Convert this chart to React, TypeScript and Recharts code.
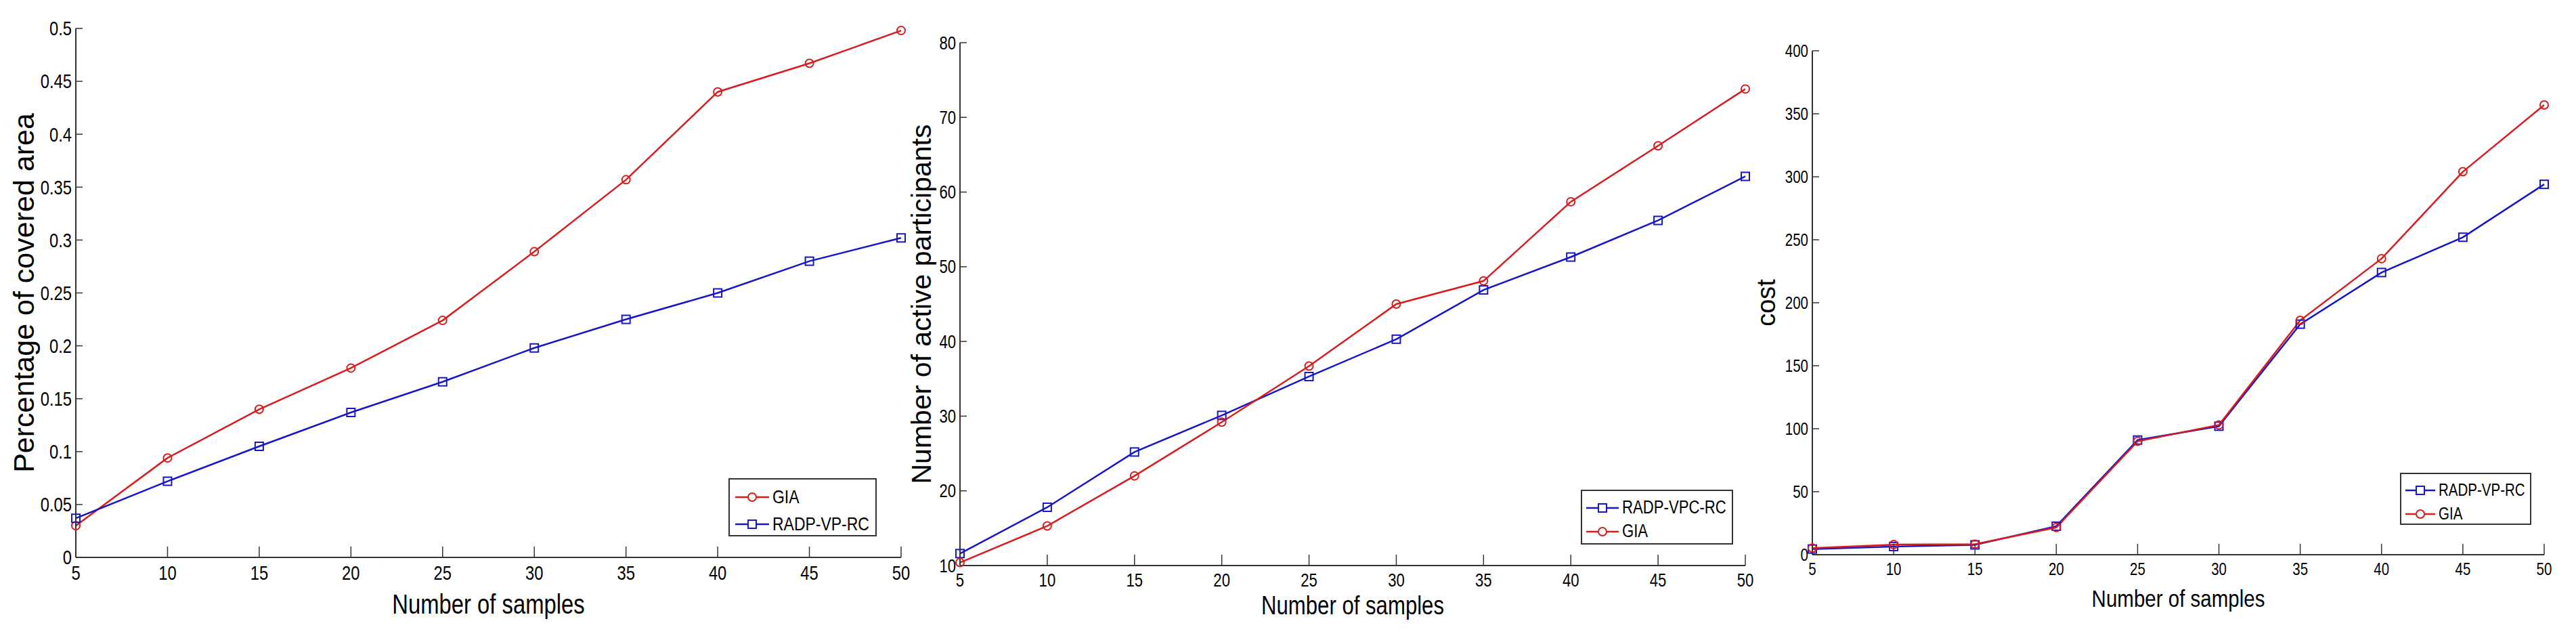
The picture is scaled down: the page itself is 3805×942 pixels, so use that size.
import { LineChart, Line, XAxis, YAxis, Legend, Label } from "recharts";

const samples = [5, 10, 15, 20, 25, 30, 35, 40, 45, 50];

const coverageGIA = [0.03, 0.094, 0.14, 0.179, 0.224, 0.289, 0.357, 0.44, 0.467, 0.498];
const coverageRADP = [0.037, 0.072, 0.105, 0.137, 0.166, 0.198, 0.225, 0.25, 0.28, 0.302];

const participantsRADP = [11.6, 17.8, 25.2, 30.1, 35.3, 40.3, 46.9, 51.3, 56.2, 62.1];
const participantsGIA = [10.4, 15.3, 22.0, 29.2, 36.7, 45.0, 48.1, 58.7, 66.2, 73.8];

const costRADP = [4.5, 6.5, 7.8, 22.6, 91, 102, 183, 224, 252, 294];
const costGIA = [5.2, 8.0, 8.4, 21.6, 90, 103, 186, 235, 304, 357];

const coverageTicks = [0, 0.05, 0.1, 0.15, 0.2, 0.25, 0.3, 0.35, 0.4, 0.45, 0.5];
const participantTicks = [10, 20, 30, 40, 50, 60, 70, 80];
const costTicks = [0, 50, 100, 150, 200, 250, 300, 350, 400];

const RED = "#d81c1c";
const BLUE = "#1616c8";
const AXIS = "#333";
const FONT = '"Liberation Sans", Arial, sans-serif';
const SQUASH = 0.82; // the figure's text is condensed like Arial Narrow
const H = 942;
const X_AXIS_H = 100;

type Series = { name: string; values: number[]; color: string; marker: "circle" | "square" };

const circleDot = (color: string) => (p: any) => (
  <circle key={`c-${p.index}`} cx={p.cx} cy={p.cy} r={6} fill="none" stroke={color} strokeWidth={2} />
);
const squareDot = (color: string) => (p: any) => (
  <rect
    key={`s-${p.index}`}
    x={p.cx - 6}
    y={p.cy - 6}
    width={12}
    height={12}
    fill="none"
    stroke={color}
    strokeWidth={2}
  />
);

// narrow tick label: regular font squeezed horizontally
const narrowTick = (fontSize: number, axis: "x" | "y") => (p: any) => (
  <g transform={`translate(${p.x},${p.y}) scale(${SQUASH},1)`}>
    <text
      x={0}
      y={0}
      dy={axis === "x" ? "0.71em" : "0.355em"}
      textAnchor={axis === "x" ? "middle" : "end"}
      fontFamily={FONT}
      fontSize={fontSize}
      fill="#000"
    >
      {p.payload.value}
    </text>
  </g>
);

function BoxLegend({ series, cfg }: { series: Series[]; cfg: any }) {
  return (
    <div
      style={{
        boxSizing: "border-box",
        width: cfg.width,
        height: cfg.height,
        border: `2px solid ${AXIS}`,
        background: "#fff",
        paddingTop: cfg.padTop,
        paddingLeft: cfg.padLeft,
        overflow: "hidden",
      }}
    >
      {series.map((s) => (
        <div key={s.name} style={{ display: "flex", alignItems: "center", height: cfg.rowH }}>
          <svg width={cfg.iconW} height={20} style={{ flex: "none" }}>
            <line x1={0} x2={cfg.iconW} y1={10} y2={10} stroke={s.color} strokeWidth={2.5} />
            {s.marker === "circle" ? (
              <circle cx={cfg.iconW / 2} cy={10} r={6} fill="#fff" stroke={s.color} strokeWidth={2} />
            ) : (
              <rect x={cfg.iconW / 2 - 6} y={4} width={12} height={12} fill="#fff" stroke={s.color} strokeWidth={2} />
            )}
          </svg>
          <span
            style={{
              display: "inline-block",
              fontFamily: FONT,
              fontSize: cfg.fontSize,
              color: "#000",
              marginLeft: 5,
              lineHeight: 1,
              whiteSpace: "nowrap",
              transform: `scaleX(${SQUASH})`,
              transformOrigin: "left center",
            }}
          >
            {s.name}
          </span>
        </div>
      ))}
    </div>
  );
}

function Panel(props: {
  left: number;
  width: number;
  plot: { l: number; r: number; t: number; b: number };
  series: Series[];
  yDomain: [number, number];
  yTicks: number[];
  tickFont: number;
  yLabel: string;
  yLabelX: number;
  yLabelSize: number;
  xLabelSize: number;
  xLabelBaseline: number;
  legend: any;
}) {
  const { left, width, plot, series } = props;
  const data = samples.map((x, i) => {
    const row: any = { x };
    series.forEach((s) => (row[s.name] = s.values[i]));
    return row;
  });
  return (
    <div style={{ position: "absolute", left, top: 0 }}>
      <LineChart
        width={width}
        height={H}
        data={data}
        margin={{ top: plot.t, right: left + width - plot.r, left: 0, bottom: H - plot.b - X_AXIS_H }}
      >
        <XAxis
          dataKey="x"
          type="number"
          domain={[5, 50]}
          ticks={samples}
          interval={0}
          height={X_AXIS_H}
          tick={narrowTick(props.tickFont, "x")}
          tickSize={-16}
          tickMargin={28}
          axisLine={{ stroke: AXIS, strokeWidth: 2 }}
          tickLine={{ stroke: AXIS, strokeWidth: 1.5 }}
        >
          <Label
            content={(p: any) => {
              const vb = p.viewBox || {};
              const cx = vb.x + vb.width / 2;
              return (
                <g transform={`translate(${cx},${props.xLabelBaseline}) scale(${SQUASH},1)`}>
                  <text x={0} y={0} textAnchor="middle" fontFamily={FONT} fontSize={props.xLabelSize} fill="#000">
                    Number of samples
                  </text>
                </g>
              );
            }}
          />
        </XAxis>
        <YAxis
          type="number"
          domain={props.yDomain}
          ticks={props.yTicks}
          interval={0}
          width={plot.l - left}
          tick={narrowTick(props.tickFont, "y")}
          tickSize={-10}
          tickMargin={16}
          axisLine={{ stroke: AXIS, strokeWidth: 2 }}
          tickLine={{ stroke: AXIS, strokeWidth: 1.5 }}
        >
          <Label
            content={(p: any) => {
              const vb = p.viewBox || {};
              const cy = vb.y + vb.height / 2;
              return (
                <text
                  x={props.yLabelX}
                  y={cy}
                  transform={`rotate(-90, ${props.yLabelX}, ${cy})`}
                  textAnchor="middle"
                  fontFamily={FONT}
                  fontSize={props.yLabelSize}
                  fill="#000"
                >
                  {props.yLabel}
                </text>
              );
            }}
          />
        </YAxis>
        <Legend
          layout="vertical"
          align="center"
          verticalAlign="middle"
          wrapperStyle={{ left: props.legend.left, top: props.legend.top, width: props.legend.width }}
          content={() => <BoxLegend series={series} cfg={props.legend} />}
        />
        {series.map((s) => (
          <Line
            key={s.name}
            dataKey={s.name}
            stroke={s.color}
            strokeWidth={2.5}
            type="linear"
            dot={s.marker === "circle" ? circleDot(s.color) : squareDot(s.color)}
            activeDot={false}
            isAnimationActive={false}
          />
        ))}
      </LineChart>
    </div>
  );
}

export default function App() {
  return (
    <div style={{ position: "absolute", left: 0, top: 0, width: 3805, height: H, background: "#fff", overflow: "hidden" }}>
      <style>{`.recharts-surface { overflow: visible; }`}</style>
      <Panel
        left={0}
        width={1345}
        plot={{ l: 112, r: 1331, t: 42, b: 823 }}
        series={[
          { name: "GIA", values: coverageGIA, color: RED, marker: "circle" },
          { name: "RADP-VP-RC", values: coverageRADP, color: BLUE, marker: "square" },
        ]}
        yDomain={[0, 0.5]}
        yTicks={coverageTicks}
        tickFont={29}
        yLabel="Percentage of covered area"
        yLabelX={50}
        yLabelSize={43}
        xLabelSize={40}
        xLabelBaseline={906}
        legend={{ left: 1076, top: 706, width: 219, height: 86, padTop: 6, padLeft: 8, rowH: 40, iconW: 50, fontSize: 28 }}
      />
      <Panel
        left={1345}
        width={1250}
        plot={{ l: 1418, r: 2578, t: 63, b: 835 }}
        series={[
          { name: "RADP-VPC-RC", values: participantsRADP, color: BLUE, marker: "square" },
          { name: "GIA", values: participantsGIA, color: RED, marker: "circle" },
        ]}
        yDomain={[10, 80]}
        yTicks={participantTicks}
        tickFont={27}
        yLabel="Number of active participants"
        yLabelX={30}
        yLabelSize={41}
        xLabelSize={38}
        xLabelBaseline={907}
        legend={{ left: 990, top: 723, width: 225, height: 81, padTop: 7, padLeft: 6, rowH: 35, iconW: 48, fontSize: 27 }}
      />
      <Panel
        left={2595}
        width={1210}
        plot={{ l: 2677, r: 3758, t: 75, b: 819 }}
        series={[
          { name: "RADP-VP-RC", values: costRADP, color: BLUE, marker: "square" },
          { name: "GIA", values: costGIA, color: RED, marker: "circle" },
        ]}
        yDomain={[0, 400]}
        yTicks={costTicks}
        tickFont={25}
        yLabel="cost"
        yLabelX={27}
        yLabelSize={38}
        xLabelSize={36}
        xLabelBaseline={896}
        legend={{ left: 950, top: 698, width: 194, height: 77, padTop: 6, padLeft: 6, rowH: 35, iconW: 44, fontSize: 25 }}
      />
    </div>
  );
}
